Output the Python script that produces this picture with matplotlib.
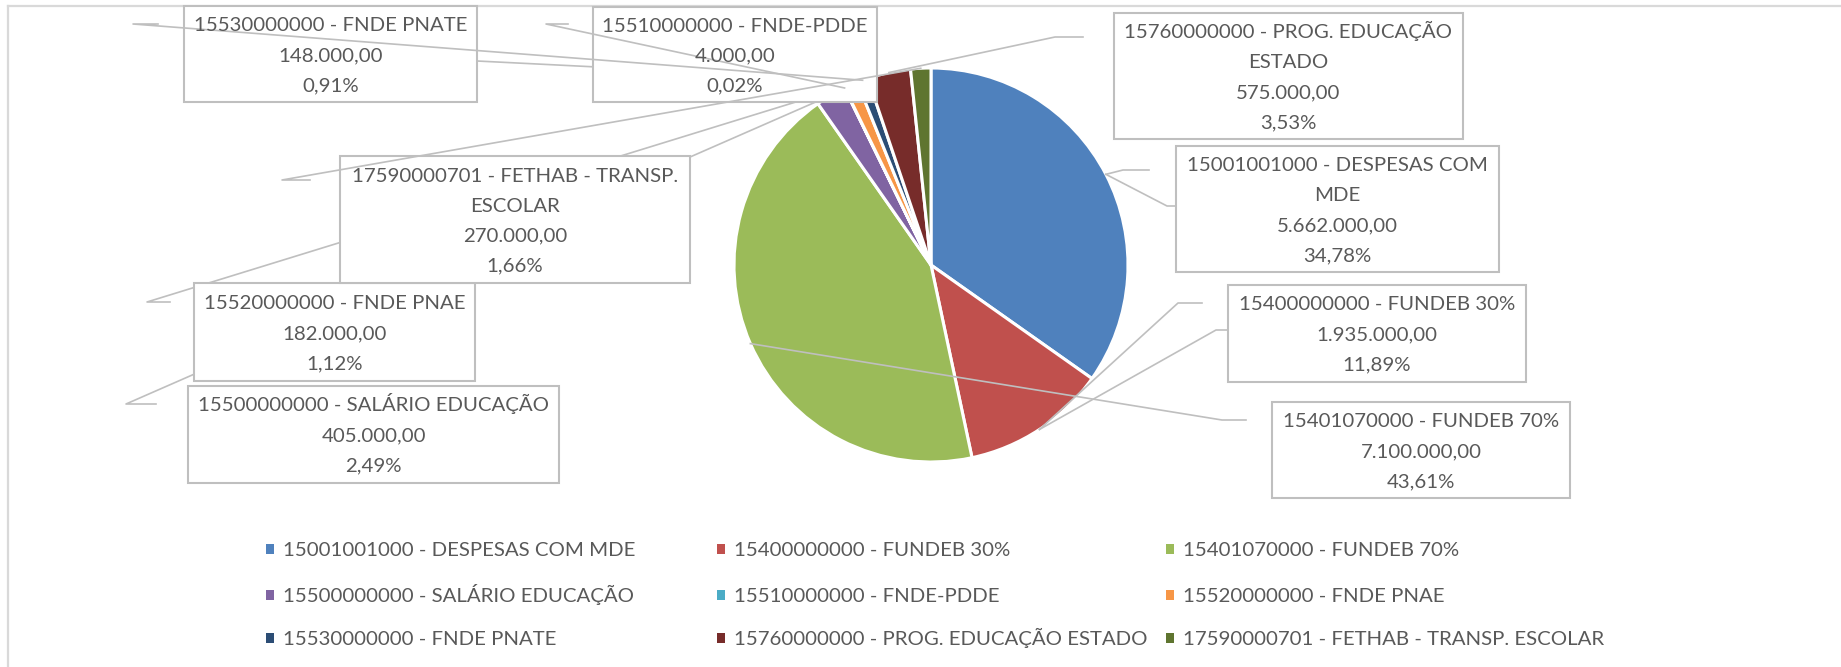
import numpy as np
import matplotlib.pyplot as plt
from matplotlib.patches import Rectangle

W, H = 1841, 667

names = ['15001001000 - DESPESAS COM MDE', '15400000000 - FUNDEB 30%',
         '15401070000 - FUNDEB 70%', '15500000000 - SALÁRIO EDUCAÇÃO',
         '15510000000 - FNDE-PDDE', '15520000000 - FNDE PNAE',
         '15530000000 - FNDE PNATE', '15760000000 - PROG. EDUCAÇÃO ESTADO',
         '17590000701 - FETHAB - TRANSP. ESCOLAR']
values = [5662000, 1935000, 7100000, 405000, 4000, 182000, 148000, 575000, 270000]
colors = ['#4f81bd', '#c0504d', '#9bbb59', '#8064a2', '#4bacc6',
          '#f79646', '#2c4d75', '#772c2a', '#5f7530']

# names as they wrap inside the label boxes
label_names = ['15001001000 - DESPESAS COM\nMDE', '15400000000 - FUNDEB 30%',
               '15401070000 - FUNDEB 70%', '15500000000 - SALÁRIO EDUCAÇÃO',
               '15510000000 - FNDE-PDDE', '15520000000 - FNDE PNAE',
               '15530000000 - FNDE PNATE', '15760000000 - PROG. EDUCAÇÃO\nESTADO',
               '17590000701 - FETHAB - TRANSP.\nESCOLAR']

# label boxes in pixels: left, top, right, bottom
boxes = [(1176, 146, 1499, 272), (1228, 285, 1526, 382), (1272, 402, 1570, 498),
         (188, 386, 559, 483), (593, 7, 877, 102), (194, 283, 475, 381),
         (184, 6, 477, 102), (1114, 13, 1463, 139), (340, 156, 690, 283)]

# leader lines: slice index, elbow points (pixels), drawn over the boxes?
leaders = [(0, [(1149, 170), (1123, 170)], False),
           (0, [(1176, 206), (1167, 206)], False),
           (1, [(1202, 303), (1178, 303)], False),
           (1, [(1228, 330), (1216, 330)], False),
           (2, [(1246, 420), (1222, 420)], False),
           (3, [(156, 404), (126, 404)], False),
           (5, [(170, 302), (147, 302)], False),
           (6, [(158, 24), (133, 24)], True),
           (6, [(477, 61)], False),
           (4, [(568, 24), (546, 24)], True),
           (8, [(310, 180), (282, 180)], True),
           (7, [(1083, 37), (1055, 37)], False)]

# legend grid
leg_cols = [266, 717, 1166]
leg_rows = [549, 595, 638]


def br(v):
    s = f'{v:,.2f}'
    return s.replace(',', 'X').replace('.', ',').replace('X', '.')


plt.rcParams['font.family'] = ['Lato', 'DejaVu Sans']
txt = '#595959'
fs = 14.7
base = 7  # baseline sits this many pixels below the visual centre

fig = plt.figure(figsize=(W / 100, H / 100), dpi=100)

cx, cy, r = 931, 265, 197
ax = fig.add_axes([(cx - r) / W, (H - cy - r) / H, 2 * r / W, 2 * r / H])
wedges, _ = ax.pie(values, colors=colors, startangle=90, counterclock=False,
                   wedgeprops=dict(edgecolor='white', linewidth=2.2))
ax.set_xlim(-1, 1)
ax.set_ylim(-1, 1)

ov = fig.add_axes([0, 0, 1, 1], zorder=2)
ov.set_xlim(0, W)
ov.set_ylim(H, 0)
ov.axis('off')
ov.patch.set_alpha(0)

# chart border (only top and left show)
ov.plot([8, W], [6, 6], color='#d9d9d9', lw=1.6)
ov.plot([8, 8], [6, H], color='#d9d9d9', lw=1.6)


def slice_point(i):
    w = wedges[i]
    t = np.deg2rad((w.theta1 + w.theta2) / 2)
    x, y = ax.transData.transform((np.cos(t) * w.r, np.sin(t) * w.r))
    return x, H - y


for i, pts, top in leaders:
    px, py = slice_point(i)
    xs = [p[0] for p in pts] + [px]
    ys = [p[1] for p in pts] + [py]
    ov.plot(xs, ys, color='#bfbfbf', lw=1.2, zorder=4 if top else 2)

total = sum(values)
for i, (l, t, rr, b) in enumerate(boxes):
    ov.add_patch(Rectangle((l, t), rr - l, b - t, facecolor='white',
                           edgecolor='#bfbfbf', lw=1.5, zorder=3))
    lines = label_names[i].split('\n') + [br(values[i]), br(values[i] / total * 100) + '%']
    yc = (t + b) / 2
    for k, s in enumerate(lines):
        y = yc + (k - (len(lines) - 1) / 2) * 30
        ov.text((l + rr) / 2, y + base, s, ha='center', va='baseline', fontsize=fs,
                color=txt, zorder=5)

for i, (n, c) in enumerate(zip(names, colors)):
    x = leg_cols[i % 3]
    y = leg_rows[i // 3]
    ov.add_patch(Rectangle((x, y - 5), 8, 10, facecolor=c, edgecolor='none'))
    ov.text(x + 17, y + base, n, ha='left', va='baseline', fontsize=fs, color=txt)

fig.savefig('out.png', dpi=100)
